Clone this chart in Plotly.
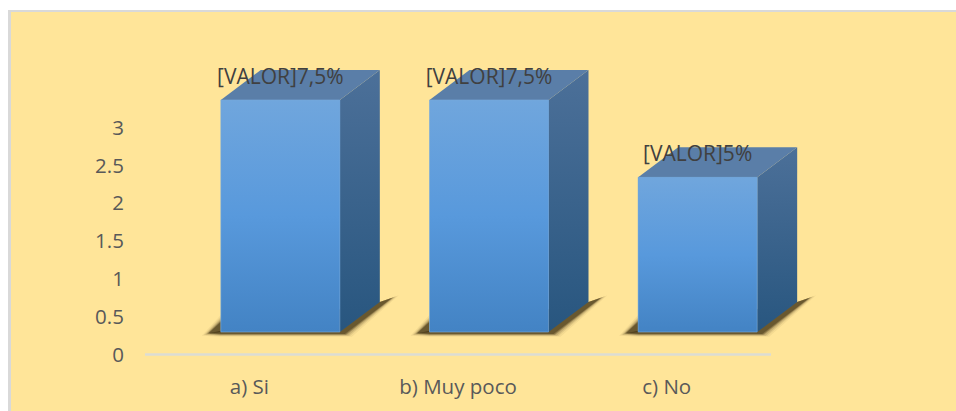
import plotly.graph_objects as go

categories = ["a) Si", "b) Muy poco", "c) No"]
bar_values = [3, 3, 2]
bar_labels = ["[VALOR]7,5%", "[VALOR]7,5%", "[VALOR]5%"]
y_ticks = [0, 0.5, 1, 1.5, 2, 2.5, 3]
y_tick_labels = ["0", "0.5", "1", "1.5", "2", "2.5", "3"]

# pixel frame of the axes, the bars sit on their own hidden axis (3D look)
W, H = 956, 411
LEFT, AXIS_END, TOP, ZERO, BOTTOM = 145, 771, 12, 354.5, 364
CAT_PX = (AXIS_END - LEFT) / 3
BAR_PX = 232 / 3
TICK_PX = 75.67


def dx(px):
    return px / CAT_PX


def dy(px):
    return px / BAR_PX


shift = dx(31)
half = dx(59.5)
depth_x, depth_y = dx(40), dy(30)

fig = go.Figure()

# category axis line, also keeps the tick axis alive
fig.add_trace(
    go.Scatter(
        x=[-0.5, 2.5],
        y=[0, 0],
        mode="lines",
        line=dict(color="#dcdcd4", width=2.5),
        showlegend=False,
        hoverinfo="skip",
    )
)

# front faces as real bars
fig.add_trace(
    go.Bar(
        x=[i + shift for i in range(3)],
        y=bar_values,
        width=half * 2,
        marker=dict(color="#5897d6", line=dict(width=0)),
        yaxis="y2",
        showlegend=False,
        hoverinfo="skip",
    )
)


def poly(xs, ys, **kw):
    fig.add_trace(
        go.Scatter(
            x=xs + xs[:1],
            y=ys + ys[:1],
            mode="lines",
            fill="toself",
            yaxis="y2",
            showlegend=False,
            hoverinfo="skip",
            **kw,
        )
    )


def grad(top, bottom):
    return dict(type="vertical", colorscale=[[0, bottom], [1, top]])


no_line = dict(width=0)

for i, v in enumerate(bar_values):
    x0, x1 = i + shift - half, i + shift + half
    # soft shadow on the floor, widest and faintest first
    for grow, alpha in [(7, 0.06), (5, 0.10), (3.5, 0.14), (2, 0.22), (1, 0.30), (0, 0.40)]:
        poly(
            [x0 - dx(12 + grow), x0, x1 + dx(5 + grow), x1 + depth_x + dx(12 + grow), x1 + depth_x],
            [dy(-1 - grow * 0.4), dy(-2 - grow * 0.4), dy(-2 - grow * 0.4), depth_y + dy(4 + grow * 0.4), depth_y],
            line=no_line,
            fillcolor=f"rgba(60,45,15,{alpha})",
        )
        poly(
            [x0 - dx(12 + grow), x0, x0],
            [dy(-1 - grow * 0.4), dy(10 + grow), 0],
            line=no_line,
            fillcolor=f"rgba(60,45,15,{alpha})",
        )
    # right side
    poly(
        [x1, x1 + depth_x, x1 + depth_x, x1],
        [v, v + depth_y, depth_y, 0],
        line=no_line,
        fillgradient=grad("#4c7099", "#28567f"),
    )
    # top
    poly(
        [x0, x0 + depth_x, x1 + depth_x, x1],
        [v, v + depth_y, v + depth_y, v],
        line=no_line,
        fillcolor="#5a7ea8",
    )
    # front gradient
    poly(
        [x0, x1, x1, x0],
        [0, 0, v, v],
        line=dict(width=1, color="rgba(120,170,220,0.6)"),
        fillgradient=dict(
            type="vertical",
            colorscale=[[0, "#4383c4"], [0.5, "#5899dc"], [1, "#70a6dd"]],
        ),
    )

# data labels
fig.add_trace(
    go.Scatter(
        x=[i + shift for i in range(3)],
        y=[v + dy(21.5) for v in bar_values],
        mode="text",
        text=bar_labels,
        textposition="middle center",
        textfont=dict(family="Open Sans", size=21, color="#404040"),
        yaxis="y2",
        cliponaxis=False,
        showlegend=False,
        hoverinfo="skip",
    )
)


def px_x(px):
    return (px - LEFT) / (W - LEFT)


def px_y(px):
    return (BOTTOM - px) / (BOTTOM - TOP)


fig.update_layout(
    width=W,
    height=H,
    margin=dict(l=LEFT, r=0, t=TOP, b=H - BOTTOM, pad=0),
    paper_bgcolor="white",
    plot_bgcolor="rgba(0,0,0,0)",
    font=dict(family="Open Sans", size=20.5, color="#595959"),
    bargap=0,
    xaxis=dict(
        range=[-0.5, (W - LEFT) / CAT_PX - 0.5],
        tickvals=[0, 1, 2],
        ticktext=categories,
        ticks="outside",
        ticklen=4,
        tickcolor="rgba(0,0,0,0)",
        showgrid=False,
        zeroline=False,
        showline=False,
    ),
    yaxis=dict(
        range=[(ZERO - BOTTOM) / TICK_PX, (ZERO - TOP) / TICK_PX],
        tickvals=y_ticks,
        ticktext=y_tick_labels,
        ticks="outside",
        ticklen=16,
        tickcolor="rgba(0,0,0,0)",
        showgrid=False,
        zeroline=False,
        showline=False,
    ),
    yaxis2=dict(
        overlaying="y",
        range=[(332 - BOTTOM) / BAR_PX, (332 - TOP) / BAR_PX],
        visible=False,
    ),
    shapes=[
        # yellow panel with grey border on the top and left, runs off the page
        dict(
            type="rect",
            layer="below",
            xref="paper",
            yref="paper",
            x0=px_x(8),
            x1=px_x(W + 10),
            y0=px_y(H + 10),
            y1=px_y(10),
            fillcolor="#d9d9d9",
            line=dict(width=0),
        ),
        dict(
            type="rect",
            layer="below",
            xref="paper",
            yref="paper",
            x0=px_x(11),
            x1=px_x(W + 10),
            y0=px_y(H + 10),
            y1=px_y(12),
            fillcolor="#ffe599",
            line=dict(width=0),
        ),
    ],
)

# the page margin would shift the figure by 8px
fig.write_html(
    "out.html",
    config={"displayModeBar": False},
    post_script="document.body.style.margin='0';",
)
